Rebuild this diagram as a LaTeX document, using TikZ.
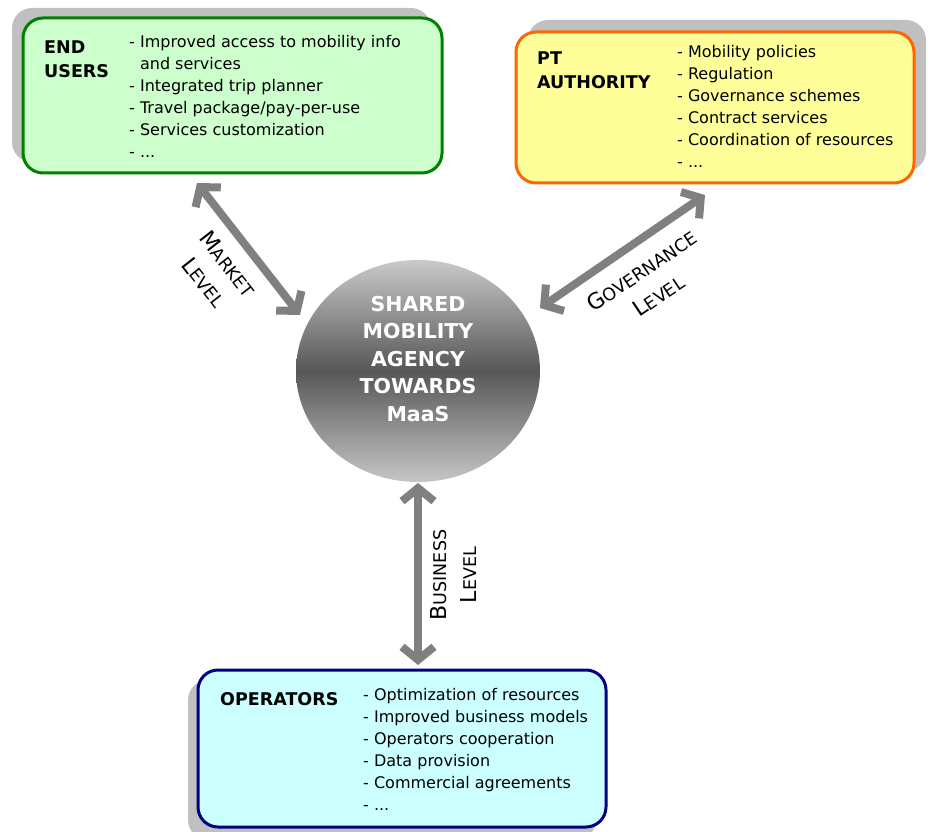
\documentclass[tikz,border=0pt]{standalone}
\usepackage{fontspec}
\setmainfont{DejaVu Sans}
\usetikzlibrary{arrows.meta}
\usetikzlibrary{shapes.geometric}

\definecolor{usergreen}{RGB}{204,255,204}
\definecolor{userborder}{RGB}{0,128,0}
\definecolor{ptyellow}{RGB}{255,255,153}
\definecolor{ptborder}{RGB}{255,102,0}
\definecolor{opcyan}{RGB}{204,255,255}
\definecolor{opborder}{RGB}{0,0,128}
\definecolor{shadowgray}{RGB}{192,192,192}
\definecolor{arrowgray}{RGB}{128,128,128}

% big first letter, small capitals after it
\newcommand{\lvl}[2]{{\fontsize{22}{30}\selectfont #1}{\fontsize{17.5}{30}\selectfont #2}}

\begin{document}
\begin{tikzpicture}[x=1pt,y=-1pt,
    boxtitle/.style={anchor=north west,inner sep=0pt,align=left,font=\fontsize{17.5}{24}\selectfont\bfseries},
    boxlist/.style={anchor=north west,inner sep=0pt,align=left,font=\fontsize{16}{22}\selectfont},
    levelarrow/.style={draw=arrowgray,line width=8pt,>={Straight Barb[length=13pt,width=32pt]},<->},
    levellabel/.style={align=center,inner sep=0pt,font=\fontsize{17.5}{30}\selectfont}]
            \useasboundingbox (0,0) rectangle (930,832);

            % end users
            \fill[shadowgray,rounded corners=20pt](12,8) rectangle (431,162);
            \filldraw[fill=usergreen,draw=userborder,line width=3pt,rounded corners=20pt](23,18) rectangle (442,173);
            \node[boxtitle] (users-title) at (44,41){END\\USERS};
            \node[boxlist] (users-list) at (129,35){- Improved access to mobility info\\\phantom{- }and services\\- Integrated trip planner\\- Travel package/pay-per-use\\- Services customization\\- ...};

            % pt authority
            \fill[shadowgray,rounded corners=20pt](528,20) rectangle (926,171);
            \filldraw[fill=ptyellow,draw=ptborder,line width=3pt,rounded corners=20pt](516,32) rectangle (914,183);
            \node[boxtitle] (pt-title) at (537,52){PT\\AUTHORITY};
            \node[boxlist] (pt-list) at (677,45){- Mobility policies\\- Regulation\\- Governance schemes\\- Contract services\\- Coordination of resources\\- ...};

            % operators
            \fill[shadowgray,rounded corners=20pt](188,680) rectangle (596,840);
            \filldraw[fill=opcyan,draw=opborder,line width=3pt,rounded corners=20pt](198,670) rectangle (606,827);
            \node[boxtitle] (op-title) at (220,692){OPERATORS};
            \node[boxlist] (op-list) at (363,688){- Optimization of resources\\- Improved business models\\- Operators cooperation\\- Data provision\\- Commercial agreements\\- ...};

            % agency
            \node[ellipse,minimum width=244pt,minimum height=222pt,top color=gray!42,bottom color=gray!45,middle color=black!66] (agency) at (418,371){};
            \node[text=white,align=center,font=\fontsize{20.5}{27.5}\selectfont\bfseries] (agency-text) at (418,359){SHARED\\MOBILITY\\AGENCY\\TOWARDS\\MaaS};

            % levels
            \coordinate (market-top) at (197,183);
            \coordinate (market-bot) at (300,315);
            \coordinate (gov-top) at (705,195);
            \coordinate (gov-bot) at (540,308);
            \coordinate (bus-top) at (418,483);
            \coordinate (bus-bot) at (418,665);
            \draw[levelarrow](market-top) -- (market-bot);
            \draw[levelarrow](gov-top) -- (gov-bot);
            \draw[levelarrow](bus-top) -- (bus-bot);
            \node[levellabel,rotate=-52] (market-label) at (216,273){\lvl{M}{ARKET}\\\lvl{L}{EVEL}};
            \node[levellabel,rotate=34] (gov-label) at (650,283){\lvl{G}{OVERNANCE}\\\lvl{L}{EVEL}};
            \node[levellabel,rotate=90] (bus-label) at (453,575){\lvl{B}{USINESS}\\\lvl{L}{EVEL}};
        \end{tikzpicture}
\end{document}
